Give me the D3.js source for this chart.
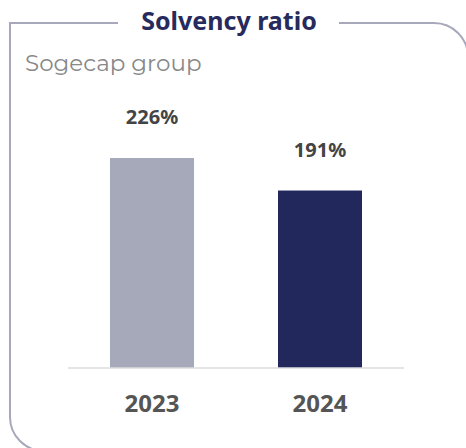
<!DOCTYPE html>
<html>
<head>
<meta charset="utf-8">
<script src="https://cdn.jsdelivr.net/npm/d3@7"></script>
<style>
  body { margin: 0; background: #fff; }
  svg { display: block; }
</style>
</head>
<body>
<div id="chart"></div>
<script>
// chart data
var years = ["2023", "2024"];
var ratios = [226, 191];
var barColors = ["#a6a9ba", "#23285c"];

var width = 466, height = 448;

var svg = d3.select("#chart").append("svg")
    .attr("width", width)
    .attr("height", height);

// frame: square top-left, rounded top-right and bottom-left
var fx0 = 10, fy0 = 23, fx1 = 468, fy1 = 451, r = 34;
var frame = d3.path();
frame.moveTo(118, fy0);
frame.lineTo(fx0, fy0);
frame.lineTo(fx0, fy1 - r);
frame.arcTo(fx0, fy1, fx0 + r, fy1, r);
frame.lineTo(fx1, fy1);
svg.append("path")
    .attr("d", frame.toString())
    .attr("fill", "none")
    .attr("stroke", "#a7a9bb")
    .attr("stroke-width", 2);

var frameR = d3.path();
frameR.moveTo(339, fy0);
frameR.lineTo(fx1 - r, fy0);
frameR.arcTo(fx1, fy0, fx1, fy0 + r, r);
frameR.lineTo(fx1, fy1);
svg.append("path")
    .attr("d", frameR.toString())
    .attr("fill", "none")
    .attr("stroke", "#a7a9bb")
    .attr("stroke-width", 2);

// title
svg.append("text")
    .attr("x", 229)
    .attr("y", 30)
    .attr("text-anchor", "middle")
    .attr("font-family", "'Source Sans Pro', 'Noto Sans', sans-serif")
    .attr("font-weight", "bold")
    .attr("font-size", 25)
    .attr("fill", "#262a5d")
    .text("Solvency ratio");

// subtitle
svg.append("text")
    .attr("x", 25)
    .attr("y", 71)
    .attr("font-family", "Montserrat, 'Open Sans', sans-serif")
    .attr("font-weight", 400)
    .attr("font-size", 23)
    .attr("fill", "#888888")
    .text("Sogecap group");

var data = years.map(function (y, i) {
    return {year: y, value: ratios[i], color: barColors[i]};
});

var x = d3.scaleBand()
    .domain(years)
    .range([68, 404])
    .paddingInner(0.5)
    .paddingOuter(0.25);

var y = d3.scaleLinear()
    .domain([0, 250])
    .range([368, 368 - 232.3]);

svg.selectAll("rect.bar")
    .data(data)
    .enter()
    .append("rect")
    .attr("class", "bar")
    .attr("x", function (d) { return x(d.year); })
    .attr("y", function (d) { return y(d.value); })
    .attr("width", x.bandwidth())
    .attr("height", function (d) { return y(0) - y(d.value); })
    .attr("fill", function (d) { return d.color; });

// value labels
svg.selectAll("text.value")
    .data(data)
    .enter()
    .append("text")
    .attr("class", "value")
    .attr("x", function (d) { return x(d.year) + x.bandwidth() / 2; })
    .attr("y", function (d) { return y(d.value) - 34; })
    .attr("text-anchor", "middle")
    .attr("font-family", "'Source Sans Pro', 'Noto Sans', sans-serif")
    .attr("font-weight", "bold")
    .attr("font-size", 20)
    .attr("fill", "#444")
    .text(function (d) { return d.value + "%"; });

// baseline
svg.append("line")
    .attr("x1", 68)
    .attr("x2", 404)
    .attr("y1", y(0))
    .attr("y2", y(0))
    .attr("stroke", "#dcdcdf")
    .attr("stroke-width", 1.5);

// year axis
var axis = svg.append("g")
    .attr("transform", "translate(0," + y(0) + ")")
    .call(d3.axisBottom(x).tickSize(0).tickPadding(27));
axis.select(".domain").remove();
axis.selectAll("text")
    .attr("font-family", "'Source Sans Pro', 'Noto Sans', sans-serif")
    .attr("font-weight", "bold")
    .attr("font-size", 24)
    .attr("fill", "#555");
</script>
</body>
</html>
